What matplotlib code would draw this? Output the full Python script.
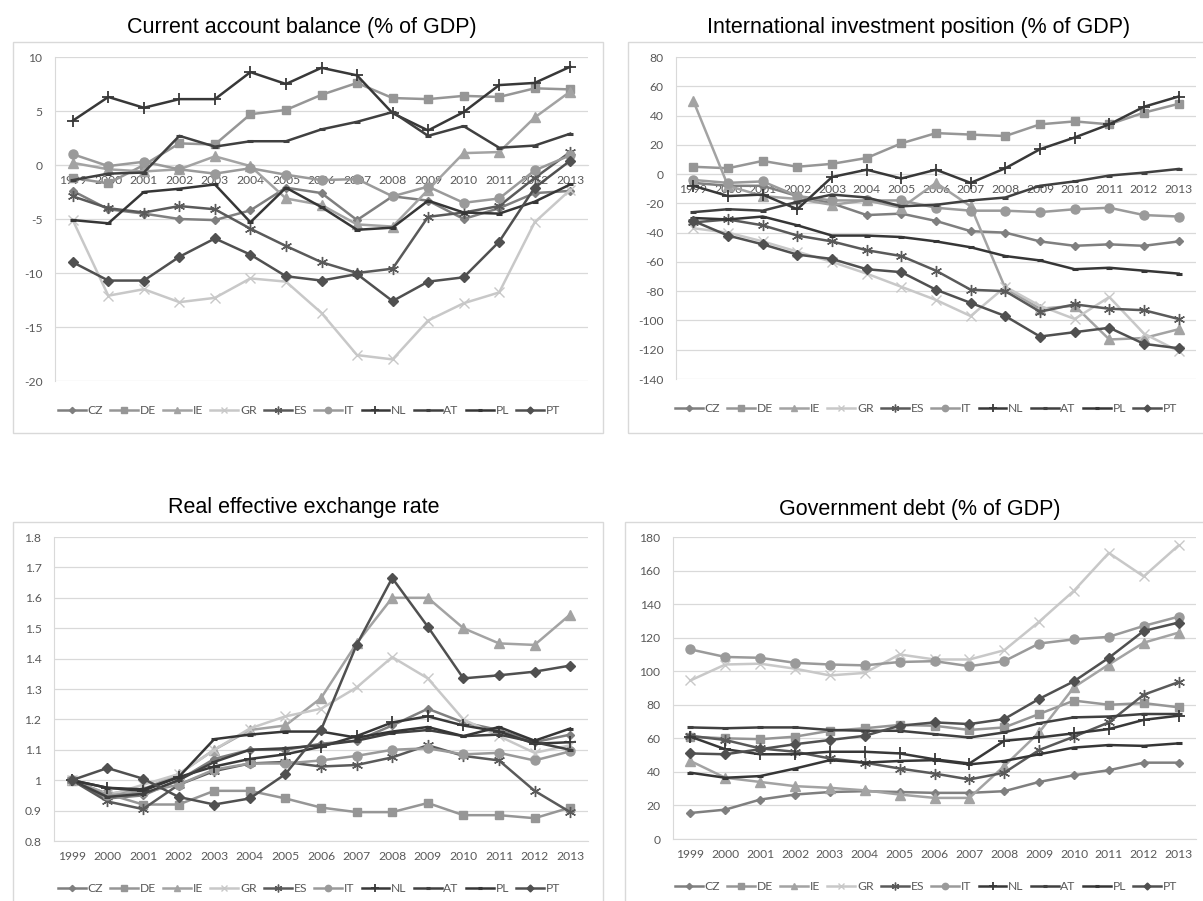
import matplotlib
matplotlib.use('Agg')
import matplotlib.pyplot as plt
from matplotlib.patches import Rectangle

# Jaren en landen
jaren = [str(j) for j in range(1999, 2014)]
landen = ['CZ', 'DE', 'IE', 'GR', 'ES', 'IT', 'NL', 'AT', 'PL', 'PT']

# Current account balance (% of GDP)
ca_cz = [-2.4, -4.1, -4.5, -5.0, -5.1, -4.2, -2.1, -2.6, -5.1, -2.9, -3.3, -5.0, -4.0, -2.6, -2.4]
ca_de = [-1.2, -1.7, 0.0, 2.0, 1.9, 4.7, 5.1, 6.5, 7.6, 6.2, 6.1, 6.4, 6.3, 7.1, 7.0]
ca_ie = [0.2, -0.4, -0.6, -0.4, 0.8, -0.1, -3.1, -3.7, -5.5, -5.7, -2.3, 1.1, 1.2, 4.4, 6.8]
ca_gr = [-5.1, -12.1, -11.5, -12.7, -12.3, -10.5, -10.8, -13.7, -17.6, -18.0, -14.4, -12.8, -11.8, -5.3, -2.3]
ca_es = [-2.9, -4.0, -4.4, -3.8, -4.1, -5.9, -7.5, -9.0, -10.0, -9.6, -4.8, -4.4, -3.8, -1.2, 1.2]
ca_it = [1.0, -0.1, 0.3, -0.4, -0.8, -0.3, -0.9, -1.4, -1.3, -2.9, -2.0, -3.5, -3.1, -0.5, 0.9]
ca_nl = [4.1, 6.3, 5.3, 6.1, 6.1, 8.6, 7.5, 9.0, 8.3, 4.8, 3.2, 4.9, 7.4, 7.6, 9.1]
ca_at = [-1.4, -0.8, -0.7, 2.7, 1.7, 2.2, 2.2, 3.3, 4.0, 4.9, 2.7, 3.6, 1.6, 1.8, 2.9]
ca_pl = [-5.1, -5.4, -2.5, -2.2, -1.8, -5.3, -2.1, -3.9, -6.0, -5.8, -3.3, -4.4, -4.5, -3.4, -1.8]
ca_pt = [-9.0, -10.7, -10.7, -8.5, -6.8, -8.3, -10.3, -10.7, -10.1, -12.6, -10.8, -10.4, -7.1, -2.1, 0.4]

# International investment position (% of GDP)
iip_cz = [-6, -8, -8, -15, -20, -28, -27, -32, -39, -40, -46, -49, -48, -49, -46]
iip_de = [5, 4, 9, 5, 7, 11, 21, 28, 27, 26, 34, 36, 34, 42, 48]
iip_ie = [50, -8, -15, -17, -21, -18, -23, -6, -22, -78, -92, -90, -113, -112, -106]
iip_gr = [-37, -40, -46, -53, -60, -68, -77, -86, -97, -77, -90, -99, -84, -109, -121]
iip_es = [-33, -31, -35, -42, -46, -52, -56, -66, -79, -80, -94, -89, -92, -93, -99]
iip_it = [-4, -6, -5, -15, -18, -18, -18, -23, -25, -25, -26, -24, -23, -28, -29]
iip_nl = [-8, -15, -14, -24, -2, 3, -3, 3, -6, 4, 17, 25, 34, 46, 53]
iip_at = [-26, -24, -25, -19, -14, -16, -22, -21, -18, -16, -8, -5, -1, 1, 3.5]
iip_pl = [-30, -31, -29, -35, -42, -42, -43, -46, -50, -56, -59, -65, -64, -66, -68]
iip_pt = [-32, -42, -48, -55, -58, -65, -67, -79, -88, -97, -111, -108, -105, -116, -119]

# Real effective exchange rate
reer_cz = [1.0, 0.94, 0.95, 1.0, 1.07, 1.10, 1.10, 1.12, 1.13, 1.18, 1.235, 1.19, 1.165, 1.125, 1.15]
reer_de = [1.0, 0.955, 0.92, 0.92, 0.965, 0.965, 0.94, 0.91, 0.895, 0.895, 0.925, 0.885, 0.885, 0.875, 0.91]
reer_ie = [1.0, 0.955, 0.97, 1.02, 1.10, 1.165, 1.18, 1.27, 1.45, 1.60, 1.60, 1.50, 1.45, 1.445, 1.545]
reer_gr = [1.0, 0.95, 0.985, 1.02, 1.10, 1.17, 1.21, 1.235, 1.305, 1.405, 1.335, 1.20, 1.145, 1.09, 1.115]
reer_es = [1.0, 0.93, 0.905, 0.985, 1.03, 1.055, 1.06, 1.045, 1.05, 1.075, 1.115, 1.08, 1.065, 0.965, 0.895]
reer_it = [1.0, 0.95, 0.96, 0.985, 1.035, 1.055, 1.055, 1.065, 1.08, 1.10, 1.105, 1.085, 1.09, 1.065, 1.095]
reer_nl = [1.0, 0.975, 0.965, 1.01, 1.045, 1.07, 1.085, 1.11, 1.145, 1.19, 1.21, 1.18, 1.16, 1.12, 1.125]
reer_at = [1.0, 0.945, 0.955, 1.0, 1.06, 1.10, 1.105, 1.115, 1.13, 1.155, 1.165, 1.145, 1.15, 1.125, 1.10]
reer_pl = [1.0, 0.975, 0.97, 1.01, 1.135, 1.15, 1.16, 1.16, 1.14, 1.16, 1.175, 1.145, 1.175, 1.13, 1.17]
reer_pt = [1.0, 1.04, 1.005, 0.945, 0.92, 0.94, 1.02, 1.165, 1.445, 1.665, 1.505, 1.335, 1.345, 1.357, 1.377]

# Government debt (% of GDP)
debt_cz = [15.5, 17.5, 23.5, 26.5, 28, 28.5, 28, 27.5, 27.5, 28.5, 34, 38, 41, 45.5, 45.5]
debt_de = [61, 60, 59.5, 61, 64.5, 66, 68, 67.5, 65, 66.5, 74.5, 82.5, 80, 81, 78.5]
debt_ie = [46.5, 36.5, 34, 31.5, 30.5, 29, 26.5, 24.5, 24.5, 43.5, 63.5, 90.5, 104, 117, 123]
debt_gr = [94.5, 104, 104.5, 101.5, 97.5, 99, 110, 107, 107, 112.5, 129.5, 148, 170.5, 156.5, 175]
debt_es = [61.5, 59, 54, 52, 48, 45.5, 42, 39, 35.5, 39.5, 53, 61, 69.5, 86, 93.5]
debt_it = [113, 108.5, 108, 105, 104, 103.5, 105.5, 106, 103, 106, 116.5, 119, 120.5, 127, 132.5]
debt_nl = [61, 53.5, 50.5, 50.5, 52, 52, 51, 47.5, 45, 58.5, 60.5, 63, 65.5, 71, 73.5]
debt_at = [66.5, 66, 66.5, 66.5, 65, 64.5, 64.5, 62.5, 60.5, 63.5, 69, 72.5, 73, 74.5, 74.5]
debt_pl = [39.5, 36.5, 37.5, 42, 47, 45.5, 46.5, 47, 44.5, 46.5, 50.5, 54.5, 56, 55.5, 57]
debt_pt = [51, 50.5, 53.5, 56.5, 59, 61.5, 67.5, 69.5, 68.5, 71.5, 83.5, 94, 108, 124, 129]

# Stijl per land: kleur, marker, markergrootte
stijlen = {
    'CZ': ('#7f7f7f', 'D', 4.5),
    'DE': ('#969696', 's', 6),
    'IE': ('#a3a3a3', '^', 6.5),
    'GR': ('#c8c8c8', 'x', 7),
    'ES': ('#5a5a5a', (6, 2, 0), 8),
    'IT': ('#9a9a9a', 'o', 6.5),
    'NL': ('#383838', '+', 9),
    'AT': ('#404040', '_', 5),
    'PL': ('#363636', '_', 5),
    'PT': ('#505050', 'D', 5),
}

W, H = 1203, 901
fig = plt.figure(figsize=(W / 100, H / 100), dpi=100)
fig.patch.set_facecolor('white')


def px_ax(links, rechts, boven, onder):
    # pixelcoordinaten omzetten naar figuurfracties
    return [links / W, 1 - onder / H, (rechts - links) / W, (onder - boven) / H]


def kader(x0, y0, x1, y1):
    fig.add_artist(Rectangle((x0 / W, 1 - y1 / H), (x1 - x0) / W, (y1 - y0) / H,
                             transform=fig.transFigure, fill=False,
                             edgecolor='#d9d9d9', linewidth=1.0))


def paneel(pos, reeksen, titel, titel_xy, ylim, yticks, ylabels, as_op_nul, legenda_xy, kader_px):
    kader(*kader_px)
    ax = fig.add_axes(px_ax(*pos))
    x = list(range(len(jaren)))
    for land, waarden in zip(landen, reeksen):
        kleur, marker, ms = stijlen[land]
        mew = 1.0
        if marker == '_':
            mew = 2.2
        elif marker == '+':
            mew = 1.3
        ax.plot(x, waarden, color=kleur, linewidth=1.8, marker=marker, markersize=ms,
                markeredgewidth=mew, markerfacecolor=kleur, markeredgecolor=kleur,
                label=land, zorder=3)
    ax.set_xlim(-0.5, len(jaren) - 0.5)
    ax.set_ylim(*ylim)
    ax.set_yticks(yticks)
    ax.set_yticklabels(ylabels)
    ax.set_xticks(x)
    ax.set_xticklabels(jaren)
    ax.grid(axis='y', color='#d9d9d9', linewidth=0.9)
    ax.set_axisbelow(True)
    for s in ['top', 'right']:
        ax.spines[s].set_visible(False)
    ax.spines['left'].set_color('#d9d9d9')
    ax.spines['bottom'].set_color('#d9d9d9')
    if as_op_nul:
        ax.spines['bottom'].set_position(('data', 0))
    ax.tick_params(axis='both', length=0, colors='#595959', labelsize=8.7)
    ax.tick_params(axis='y', pad=9)
    ax.tick_params(axis='x', pad=7)
    for lab in ax.get_xticklabels() + ax.get_yticklabels():
        lab.set_fontfamily('Lato')
    fig.text(titel_xy[0] / W, 1 - titel_xy[1] / H, titel, ha='center', va='center',
             fontsize=15.5, family='Liberation Sans', color='black')
    leg = ax.legend(loc='center', bbox_to_anchor=(legenda_xy[0] / W, 1 - legenda_xy[1] / H),
                    bbox_transform=fig.transFigure, ncol=10, frameon=False,
                    handlelength=2.3, handletextpad=0.15, columnspacing=0.6,
                    markerscale=0.7, prop={'family': 'Lato', 'size': 8.7})
    for t in leg.get_texts():
        t.set_color('#595959')
    return ax


paneel((55, 588, 57, 381),
       [ca_cz, ca_de, ca_ie, ca_gr, ca_es, ca_it, ca_nl, ca_at, ca_pl, ca_pt],
       'Current account balance (% of GDP)', (302, 28), (-20, 10),
       [-20, -15, -10, -5, 0, 5, 10], ['-20', '-15', '-10', '-5', '0', '5', '10'],
       True, (309, 411), (13, 42, 603, 433))

paneel((676, 1196, 57, 379),
       [iip_cz, iip_de, iip_ie, iip_gr, iip_es, iip_it, iip_nl, iip_at, iip_pl, iip_pt],
       'International investment position (% of GDP)', (919, 28), (-140, 80),
       list(range(-140, 81, 20)), [str(v) for v in range(-140, 81, 20)],
       True, (926, 409), (628, 42, 1215, 433))

paneel((54, 588, 537, 841),
       [reer_cz, reer_de, reer_ie, reer_gr, reer_es, reer_it, reer_nl, reer_at, reer_pl, reer_pt],
       'Real effective exchange rate', (304, 508), (0.8, 1.8),
       [0.8, 0.9, 1.0, 1.1, 1.2, 1.3, 1.4, 1.5, 1.6, 1.7, 1.8],
       ['0.8', '0.9', '1', '1.1', '1.2', '1.3', '1.4', '1.5', '1.6', '1.7', '1.8'],
       False, (309, 889), (13, 522, 603, 915))

paneel((673, 1196, 537, 839),
       [debt_cz, debt_de, debt_ie, debt_gr, debt_es, debt_it, debt_nl, debt_at, debt_pl, debt_pt],
       'Government debt (% of GDP)', (920, 510), (0, 180),
       list(range(0, 181, 20)), [str(v) for v in range(0, 181, 20)],
       False, (926, 887), (625, 522, 1215, 915))

plt.savefig('out.png', dpi=100, facecolor='white')
